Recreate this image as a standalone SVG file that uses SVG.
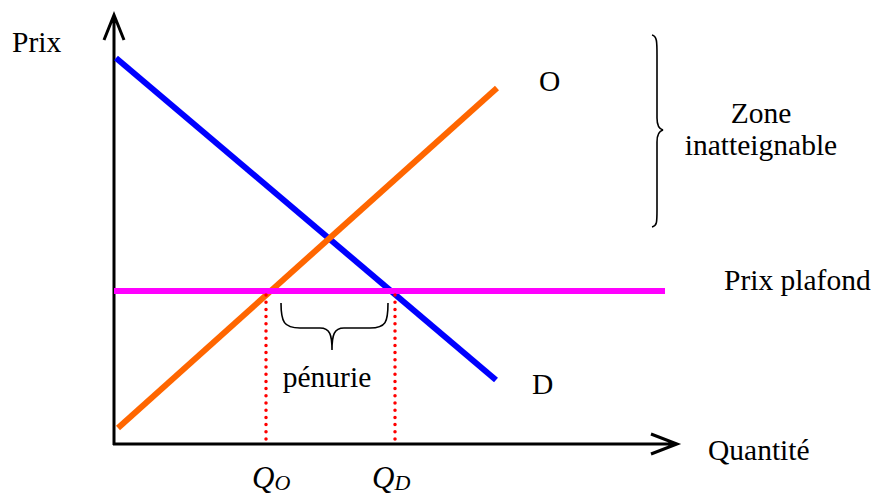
<svg xmlns="http://www.w3.org/2000/svg" width="872" height="494" viewBox="0 0 872 494">
<style>
.ax{stroke:#000;stroke-width:3;fill:none}
.br{stroke:#000;stroke-width:1.6;fill:none}
.dot{stroke:#ff0000;stroke-width:3.5;stroke-dasharray:0 7.2;stroke-linecap:round;fill:none}
</style>
<rect width="872" height="494" fill="#fff"/>
<g id="axes">
<path class="ax" d="M114,445 V15 M104,40 L114,15 L124,40"/>
<path class="ax" d="M113,444 H677 M651,434 L677,444 L651,454"/>
</g>
<g id="curves">
<line id="demand" x1="116" y1="58" x2="496" y2="380" stroke="#0000ff" stroke-width="6"/>
<line id="supply" x1="118" y1="428" x2="497" y2="88" stroke="#ff6600" stroke-width="6"/>
<line id="ceiling" x1="114" y1="291" x2="665" y2="291" stroke="#ff00ff" stroke-width="6"/>
<path class="dot" d="M266,295 V444 M395,295 V444"/>
</g>
<g id="braces">
<path class="br" d="M281,303 C281,322 284,328 300,328 L320,328 C330,328 332,335 332,350 C332,335 334,328 344,328 L370,328 C386,328 388,322 388,303"/>
<path class="br" d="M652,35 C657,36 657,42 657,55 L657,118 C657,126 659,129 663,130 C659,131 657,134 657,142 L657,210 C657,222 657,226 652,227"/>
</g>
<g id="labels" font-family="'Liberation Serif', 'Times New Roman', serif" font-size="29.5" fill="#000">
<text x="12" y="52">Prix</text>
<text x="539" y="91">O</text>
<text x="532" y="394">D</text>
<text x="761" y="123" text-anchor="middle">Zone</text>
<text x="761" y="155" text-anchor="middle">inatteignable</text>
<text x="724" y="290">Prix plafond</text>
<text x="327" y="387" text-anchor="middle">pénurie</text>
<text x="708" y="460">Quantité</text>
<text x="252" y="488" font-style="italic" font-size="31">Q<tspan font-size="22" dy="2">O</tspan></text>
<text x="372" y="488" font-style="italic" font-size="31">Q<tspan font-size="22" dy="2">D</tspan></text>
</g>
</svg>
